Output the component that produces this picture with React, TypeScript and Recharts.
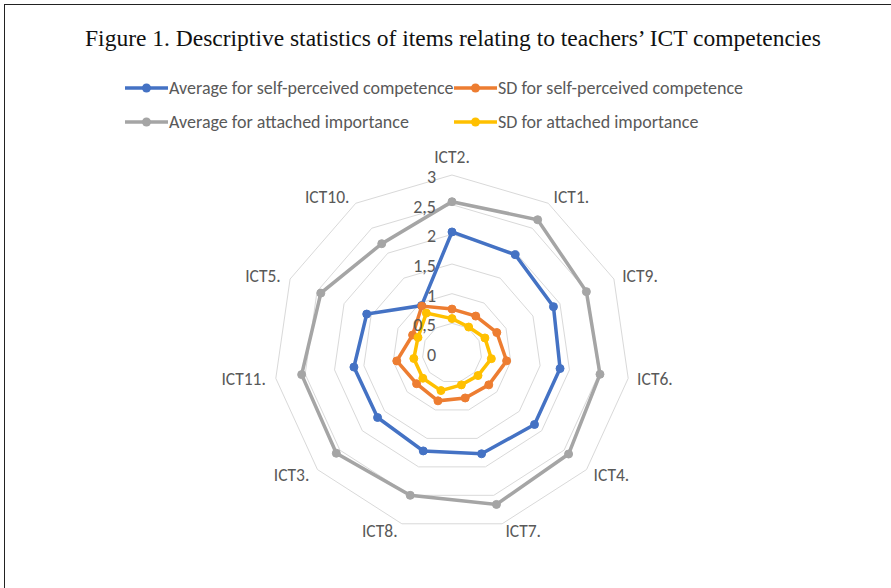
import React from 'react';
import { RadarChart, Radar, PolarGrid, PolarAngleAxis, PolarRadiusAxis, Legend } from 'recharts';

const categories = ['ICT2.', 'ICT1.', 'ICT9.', 'ICT6.', 'ICT4.', 'ICT7.', 'ICT8.', 'ICT3.', 'ICT11.', 'ICT5.', 'ICT10.'];
const avgSelf = [2.04, 1.97, 1.88, 1.84, 1.84, 1.77, 1.72, 1.66, 1.67, 1.58, 0.95];
const sdSelf = [0.74, 0.74, 0.83, 0.93, 0.82, 0.79, 0.84, 0.79, 0.94, 0.73, 0.94];
const avgImp = [2.55, 2.67, 2.49, 2.52, 2.6, 2.66, 2.5, 2.58, 2.56, 2.43, 2.19];
const sdImp = [0.58, 0.52, 0.61, 0.67, 0.58, 0.56, 0.66, 0.65, 0.65, 0.63, 0.8];
const radiusTicks = [0, 0.5, 1, 1.5, 2, 2.5, 3];

const seriesNames = [
  'Average for self-perceived competence',
  'SD for self-perceived competence',
  'Average for attached importance',
  'SD for attached importance',
];
const seriesKeys = ['avgSelf', 'sdSelf', 'avgImp', 'sdImp'];
const seriesColors = ['#4472C4', '#ED7D31', '#A5A5A5', '#FFC000'];

const data = categories.map((c, i) => ({
  name: c,
  avgSelf: avgSelf[i],
  sdSelf: sdSelf[i],
  avgImp: avgImp[i],
  sdImp: sdImp[i],
}));

const FONT = 'Calibri, Carlito, "Noto Sans", sans-serif';
const CX = 452;
const CY = 353;

const AngleTick = (props: any) => {
  const { x, y, payload, textAnchor } = props;
  const top = textAnchor === 'middle';
  return (
    <text
      x={top ? x : textAnchor === 'start' ? x + 1 : x - 2}
      y={top ? y - 10 : y}
      textAnchor={textAnchor}
      dominantBaseline="central"
      fontFamily={FONT}
      fontSize={17.5}
      fill="#595959"
    >
      {payload.value}
    </text>
  );
};

const RadiusTick = (props: any) => {
  const { x, y, payload } = props;
  return (
    <text
      x={x - 16}
      y={y + 2}
      textAnchor="end"
      dominantBaseline="central"
      fontFamily={FONT}
      fontSize={18}
      fill="#595959"
    >
      {String(payload.value).replace('.', ',')}
    </text>
  );
};

const LegendContent = (props: any) => {
  const payload = [...(props.payload || [])].sort(
    (a: any, b: any) => seriesNames.indexOf(a.value) - seriesNames.indexOf(b.value)
  );
  return (
    <div style={{ position: 'relative', width: 891, height: 60 }}>
      {payload.map((p: any, i: number) => {
        const col = i % 2;
        const row = Math.floor(i / 2);
        return (
          <div
            key={i}
            style={{
              position: 'absolute',
              left: col === 0 ? 125 : 454,
              top: row * 34,
              display: 'flex',
              alignItems: 'center',
              height: 20,
              fontFamily: FONT,
              fontSize: 18,
              color: '#595959',
              whiteSpace: 'nowrap',
            }}
          >
            <svg width={43} height={12} style={{ marginRight: 1 }}>
              <line x1={0} y1={6} x2={43} y2={6} stroke={p.color} strokeWidth={3.5} />
              <circle cx={21.5} cy={6} r={4.5} fill={p.color} />
            </svg>
            <span>{p.value}</span>
          </div>
        );
      })}
    </div>
  );
};

export default function App() {
  return (
    <div style={{ position: 'absolute', left: 0, top: 0, width: 891, height: 588, background: '#fff', overflow: 'hidden' }}>
      <div
        style={{
          position: 'absolute',
          left: 4,
          top: 4,
          width: 1000,
          height: 1000,
          borderTop: '1.5px solid #222',
          borderLeft: '1.5px solid #222',
        }}
      />
      <div
        style={{
          position: 'absolute',
          left: 0,
          top: 25,
          width: 906,
          textAlign: 'center',
          fontFamily: '"Liberation Serif", serif',
          fontSize: 23.5,
          color: '#111',
          whiteSpace: 'nowrap',
        }}
      >
        Figure 1. Descriptive statistics of items relating to teachers’ ICT competencies
      </div>
      <div style={{ position: 'absolute', left: 0, top: 0 }}>
        <RadarChart
          width={891}
          height={588}
          data={data}
          cx={CX}
          cy={CY}
          outerRadius={178}
          margin={{ top: 0, right: 0, bottom: 0, left: 0 }}
        >
          <PolarGrid gridType="polygon" radialLines={false} stroke="#d9d9d9" strokeWidth={1} />
          <PolarAngleAxis dataKey="name" tick={<AngleTick />} tickLine={false} axisLine={false} />
          <PolarRadiusAxis
            angle={90}
            domain={[0, 3]}
            ticks={radiusTicks}
            tick={<RadiusTick />}
            axisLine={false}
            tickLine={false}
          />
          {seriesKeys.map((k, i) => (
            <Radar
              key={k}
              name={seriesNames[i]}
              dataKey={k}
              stroke={seriesColors[i]}
              strokeWidth={3.5}
              fill="none"
              fillOpacity={0}
              dot={{ r: 4, fill: seriesColors[i], stroke: seriesColors[i], strokeWidth: 1, fillOpacity: 1 }}
              isAnimationActive={false}
            />
          ))}
          <Legend
            layout="horizontal"
            verticalAlign="middle"
            align="center"
            wrapperStyle={{ top: 78, left: 0, width: 891 }}
            content={<LegendContent />}
          />
        </RadarChart>
      </div>
    </div>
  );
}
